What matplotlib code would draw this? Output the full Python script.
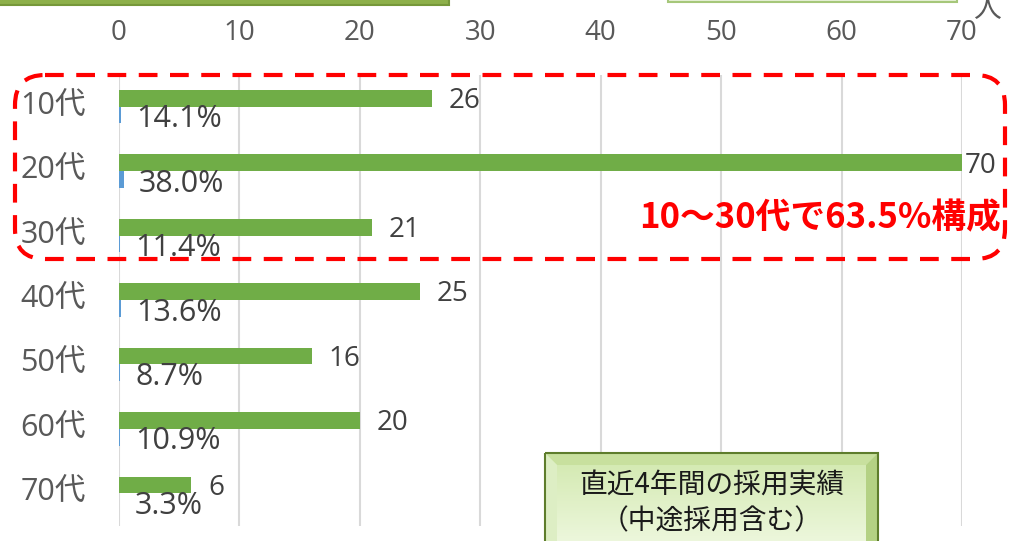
import matplotlib
matplotlib.use("Agg")
import matplotlib.pyplot as plt
import numpy as np
from matplotlib.patches import FancyBboxPatch, Rectangle, Polygon

plt.rcParams['font.family'] = ['Open Sans', 'Noto Sans CJK JP', 'DejaVu Sans']

categories = ["10代", "20代", "30代", "40代", "50代", "60代", "70代"]
counts = [26, 70, 21, 25, 16, 20, 6]
shares = [0.141, 0.380, 0.114, 0.136, 0.087, 0.109, 0.033]
share_labels = ["14.1%", "38.0%", "11.4%", "13.6%", "8.7%", "10.9%", "3.3%"]
xticks = [0, 10, 20, 30, 40, 50, 60, 70]
unit_label = "人"
callout = "10～30代で63.5%構成"
box_text = "直近4年間の採用実績\n（中途採用含む）"

W, H = 1022, 541
fig = plt.figure(figsize=(W / 100, H / 100), dpi=100)
fig.patch.set_facecolor("white")

ax = fig.add_axes([119 / W, 1 - 525.5 / H, (962 - 119) / W, (525.5 - 74.5) / H])
y = np.arange(len(categories))
bh = 0.26
ax.barh(y - bh / 2, counts, height=bh, color="#70AD47", zorder=3)
ax.barh(y + bh / 2, shares, height=bh, color="#5B9BD5", zorder=3)
ax.set_xlim(0, 70)
ax.set_ylim(len(categories) - 0.5, -0.5)
ax.set_xticks(xticks)
ax.set_xticklabels([str(t) for t in xticks])
ax.set_yticks(y)
ax.set_yticklabels(categories)
ax.xaxis.tick_top()
ax.tick_params(axis="x", length=0, pad=20, labelsize=20, labelcolor="#595959")
ax.tick_params(axis="y", length=0, pad=24, labelsize=22, labelcolor="#595959")
for lab in ax.get_yticklabels():
    lab.set_verticalalignment("center")
ax.grid(axis="x", color="#D9D9D9", linewidth=1.5, zorder=0)
for s in ax.spines.values():
    s.set_visible(False)

xmax = ax.get_xlim()[1]
for yi, v in zip(y, counts):
    off = 2 if v >= xmax else 12
    ax.annotate(str(v), xy=(v, yi - bh / 2), xytext=(off, -2), textcoords="offset points",
                ha="left", va="center", fontsize=20, color="#404040", zorder=5)
for yi, v, t in zip(y, shares, share_labels):
    ax.annotate(t, xy=(v, yi + bh / 2), xytext=(11, -3), textcoords="offset points",
                ha="left", va="center", fontsize=22, color="#404040", zorder=5)

# overlay axes in pixel coordinates
ov = fig.add_axes([0, 0, 1, 1], facecolor="none")
ov.set_xlim(0, W)
ov.set_ylim(H, 0)
ov.axis("off")

# red dashed rounded callout
rr = FancyBboxPatch((15, 75), 990, 184, boxstyle="round,pad=0,rounding_size=30",
                    fill=False, edgecolor="#FF0000", linewidth=3, linestyle=(0, (4.5, 3)))
ov.add_patch(rr)
ov.text(1001, 218, callout, ha="right", va="center", fontsize=25, fontweight="bold",
        color="#FF0000", family=['Noto Sans CJK JP', 'DejaVu Sans'])

# partially visible boxes at top
ov.add_patch(Rectangle((-5, -20), 454, 25, facecolor="#8DB04A", edgecolor="#76983A", linewidth=1.5))
ov.add_patch(Rectangle((668, -20), 289, 22, facecolor="#E6F0D6", edgecolor="#A6C77A", linewidth=1.5))
ov.text(987, 9, unit_label, ha="center", va="center", fontsize=20, color="#595959",
        family=['Noto Sans CJK JP', 'DejaVu Sans'])

# bevelled label box
x0, y0, x1, y1 = 545, 453, 878, 560
b = 12
grad = np.linspace(0, 1, 100)[:, None]
c_top = np.array([0.82, 0.91, 0.68])
c_bot = np.array([0.95, 0.98, 0.90])
img = c_top[None, None, :] * (1 - grad[:, :, None]) + c_bot[None, None, :] * grad[:, :, None]
ov.imshow(img, extent=(x0, x1, y1, y0), aspect="auto", zorder=2)
ov.add_patch(Polygon([(x0, y0), (x1, y0), (x1 - b, y0 + b), (x0 + b, y0 + b)],
                     closed=True, facecolor="#C8E09E", edgecolor="none", zorder=3))
ov.add_patch(Polygon([(x0, y0), (x0 + b, y0 + b), (x0 + b, y1 - b), (x0, y1)],
                     closed=True, facecolor="#DDEEC4", edgecolor="none", zorder=3))
ov.add_patch(Polygon([(x1, y0), (x1 - b, y0 + b), (x1 - b, y1 - b), (x1, y1)],
                     closed=True, facecolor="#B4D184", edgecolor="none", zorder=3))
ov.add_patch(Rectangle((x0, y0), x1 - x0, y1 - y0, fill=False, edgecolor="#5E7D2C",
                       linewidth=1.5, zorder=4))
ov.text((x0 + x1) / 2, 503, box_text, ha="center", va="center", fontsize=20,
        color="#1A1A1A", linespacing=1.25, zorder=5,
        family=['Noto Sans CJK JP', 'DejaVu Sans'])

fig.savefig("out.png", dpi=100)
